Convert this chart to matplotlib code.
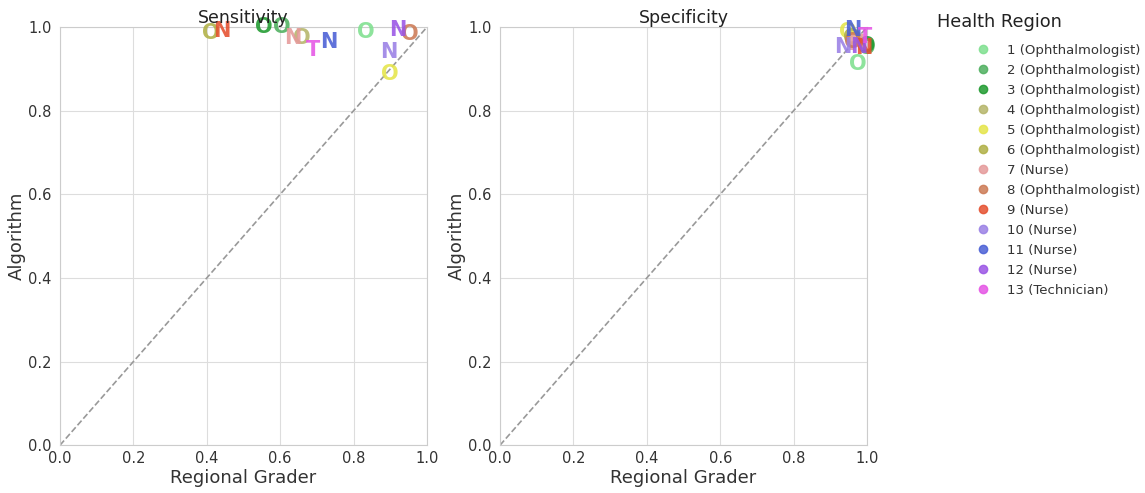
import matplotlib
matplotlib.use("Agg")
import matplotlib.pyplot as plt
from matplotlib.lines import Line2D

regions = ["1 (Ophthalmologist)", "2 (Ophthalmologist)", "3 (Ophthalmologist)",
           "4 (Ophthalmologist)", "5 (Ophthalmologist)", "6 (Ophthalmologist)",
           "7 (Nurse)", "8 (Ophthalmologist)", "9 (Nurse)", "10 (Nurse)",
           "11 (Nurse)", "12 (Nurse)", "13 (Technician)"]
letters = ["O", "O", "O", "O", "O", "O", "N", "O", "N", "N", "N", "N", "T"]
colors = ["#7fe08f", "#4fb05f", "#1f9a2f", "#b5b56a", "#e5e54a", "#b0b045",
          "#e59a9a", "#cc7a55", "#e5502f", "#9a80e5", "#4a5fd5", "#9a55e5", "#e555e5"]

# sensitivity: regional grader vs algorithm
sens_grader = [0.834, 0.605, 0.556, 0.66, 0.90, 0.41, 0.635, 0.953, 0.44, 0.896, 0.733, 0.92, 0.69]
sens_algo = [0.988, 1.0, 1.0, 0.975, 0.887, 0.985, 0.975, 0.983, 0.99, 0.94, 0.965, 0.993, 0.945]

# specificity
spec_grader = [0.975, 1.0, 1.0, 0.965, 0.948, 0.958, 0.97, 0.962, 0.99, 0.934, 0.961, 0.978, 0.995]
spec_algo = [0.911, 0.95, 0.955, 0.97, 0.988, 0.975, 0.96, 0.965, 0.95, 0.953, 0.993, 0.953, 0.977]

plt.style.use("seaborn-v0_8-whitegrid")
plt.rcParams["font.family"] = ["DejaVu Sans"]

fig = plt.figure(figsize=(11.45, 4.93), dpi=100)
ax1 = fig.add_axes([0.0524, 0.097, 0.3205, 0.848])
ax2 = fig.add_axes([0.4367, 0.097, 0.3205, 0.848])

for ax, xs, ys, title in [(ax1, sens_grader, sens_algo, "Sensitivity"),
                          (ax2, spec_grader, spec_algo, "Specificity")]:
    ax.plot([0, 1], [0, 1], linestyle="--", color="#999999", linewidth=1.2, zorder=1)
    for i in range(len(regions)):
        ax.text(xs[i], ys[i], letters[i], color=colors[i], fontsize=15,
                fontweight="bold", ha="center", va="center", alpha=0.88, zorder=3)
    ax.set_xlim(0, 1)
    ax.set_ylim(0, 1)
    ax.set_xticks([0, 0.2, 0.4, 0.6, 0.8, 1.0])
    ax.set_yticks([0, 0.2, 0.4, 0.6, 0.8, 1.0])
    ax.tick_params(axis="x", labelsize=10.5, colors="#333333", pad=4)
    ax.tick_params(axis="y", labelsize=10.5, colors="#333333", pad=6)
    ax.set_xlabel("Regional Grader", fontsize=13, color="#333333", labelpad=2)
    ax.set_ylabel("Algorithm", fontsize=13, color="#333333", labelpad=2)
    ax.set_title(title, fontsize=12.5, color="#222222", pad=-1)
    for s in ax.spines.values():
        s.set_visible(True)
        s.set_color("#cccccc")
        s.set_linewidth(0.8)
    ax.grid(True, color="#dddddd", linewidth=0.8)

fig.text(0.818, 0.955, "Health Region", fontsize=12.8, color="#222222", va="center", ha="left")

handles = [Line2D([], [], marker="o", linestyle="", color=c, alpha=0.85, markersize=6)
           for c in colors]
leg = fig.legend(handles, regions, loc="upper left",
                 bbox_to_anchor=(0.848, 0.922), frameon=False, fontsize=9.5,
                 handlelength=1.0, handletextpad=1.3, labelspacing=0.53,
                 borderaxespad=0)
for t in leg.get_texts():
    t.set_color("#333333")

fig.savefig("out.png", dpi=100)
